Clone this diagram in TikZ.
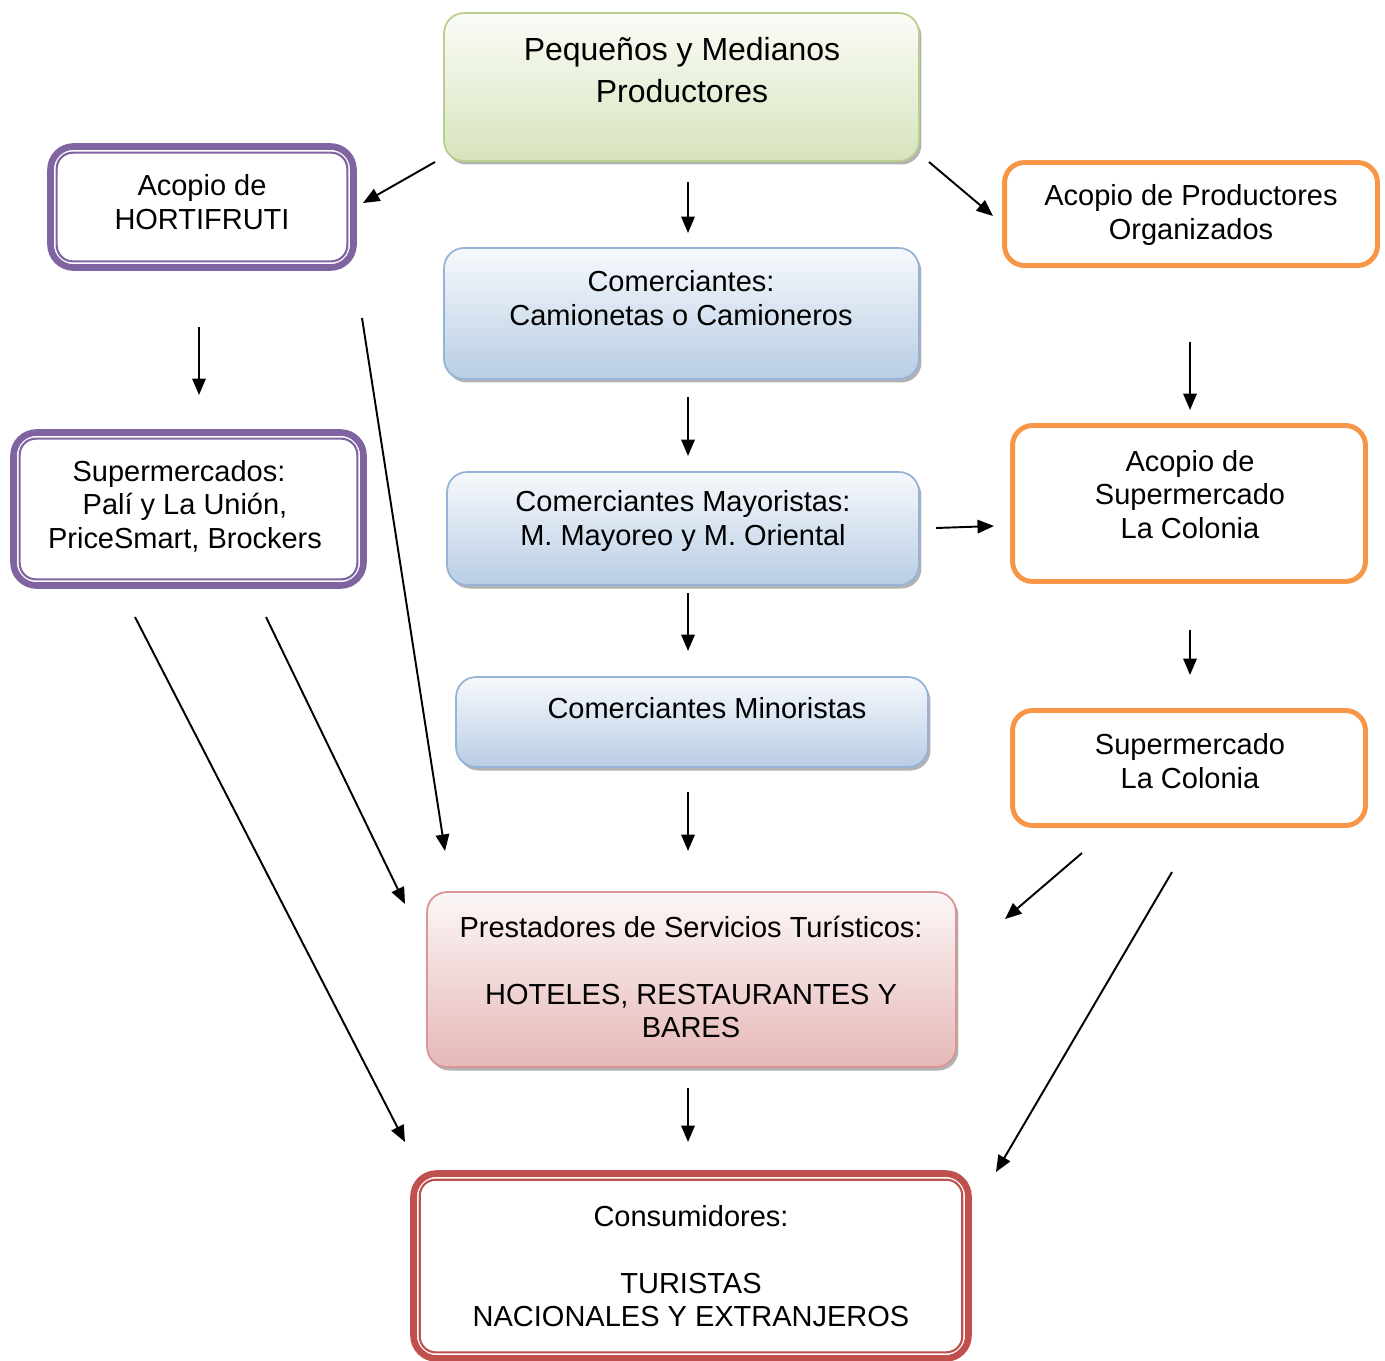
\documentclass[tikz,border=0pt]{standalone}
\usepackage{fontspec}
\setmainfont{Liberation Sans}
\usetikzlibrary{arrows.meta,shadows,calc}
\definecolor{Leaf}{HTML}{D7E4BD}
\definecolor{LeafLine}{HTML}{B9CF8F}
\definecolor{Sky}{HTML}{B9CDE5}
\definecolor{SkyLine}{HTML}{95B3D7}
\definecolor{Rose}{HTML}{E6B9B8}
\definecolor{RoseLine}{HTML}{D99594}
\definecolor{Plum}{HTML}{8064A2}
\definecolor{Tang}{HTML}{F79646}
\definecolor{Brick}{HTML}{C0504D}

\begin{document}
\begin{tikzpicture}[x=0.02cm,y=-0.02cm,
        box/.style={rounded corners=.4cm,inner sep=0pt},
        sh/.style={drop shadow={shadow xshift=.05cm,shadow yshift=-.07cm,fill=black!60,opacity=.5}},
        gr/.style 2 args={box,sh,draw=#1,line width=1pt,top color=#2!12!white,bottom color=#2},
        dbl/.style={box,draw=#1,line width=3.8pt,rounded corners=.46cm,fill=white},
        rim/.style={draw=#1,line width=1.2pt,rounded corners=.32cm},
        og/.style={box,draw=Tang,line width=2.8pt,fill=white},
        t/.style={align=center,font=\fontsize{16.5}{19}\selectfont},
        a/.style={-{Triangle[length=.33cm,width=.27cm]},line width=1.1pt}]
        \useasboundingbox (0,0) rectangle (1385,1360);
        % cadena central
        \node[gr={LeafLine}{Leaf},minimum width=9.5cm,minimum height=2.96cm] (p) at (681.5,87) {};
        \node[gr={SkyLine}{Sky},minimum width=9.5cm,minimum height=2.62cm] (c) at (681.5,313.5) {};
        \node[gr={SkyLine}{Sky},minimum width=9.44cm,minimum height=2.26cm] (m) at (683,528.5) {};
        \node[gr={SkyLine}{Sky},minimum width=9.44cm,minimum height=1.8cm] (n) at (692,722) {};
        \node[gr={RoseLine}{Rose},minimum width=10.58cm,minimum height=3.5cm] (r) at (691.5,979.5) {};
        \node[dbl=Brick,minimum width=11.1cm,minimum height=3.7cm] (k) at (691,1266) {};
        % supermercados
        \node[dbl=Plum,minimum width=6.06cm,minimum height=2.42cm] (h) at (202,207) {};
        \node[dbl=Plum,minimum width=7cm,minimum height=3.06cm] (s) at (188.5,509) {};
        \node[og,minimum width=7.46cm,minimum height=2.06cm] (o) at (1191,214) {};
        \node[og,minimum width=7.06cm,minimum height=3.12cm] (q) at (1189,503.5) {};
        \node[og,minimum width=7.06cm,minimum height=2.3cm] (l) at (1189,768) {};
        % borde interior
        \draw[rim=Plum] ($(h.north west)+(.19cm,-.19cm)$) rectangle ($(h.south east)+(-.19cm,.19cm)$);
        \draw[rim=Plum] ($(s.north west)+(.19cm,-.19cm)$) rectangle ($(s.south east)+(-.19cm,.19cm)$);
        \draw[rim=Brick] ($(k.north west)+(.19cm,-.19cm)$) rectangle ($(k.south east)+(-.19cm,.19cm)$);
        % textos
        \node[t,font=\fontsize{18.2}{23.9}\selectfont] (p-t) at (682,70) {Pequeños y Medianos\\Productores};
        \node[t] (c-t) at (681,298) {Comerciantes:\\Camionetas o Camioneros};
        \node[t] (m-t) at (683,521) {Comerciantes Mayoristas:\\M. Mayoreo y M. Oriental};
        \node[t] (n-t) at (707,708) {Comerciantes Minoristas};
        \node[t] (r-t) at (691,977) {Prestadores de Servicios Turísticos:\\[.67cm]HOTELES, RESTAURANTES Y\\BARES};
        \node[t] (k-t) at (691,1266) {Consumidores:\\[.67cm]TURISTAS\\NACIONALES Y EXTRANJEROS};
        \node[t] (h-t) at (202,202) {Acopio de\\HORTIFRUTI};
        \node[t] (s-t) at (185,506) {Supermercados:\hspace*{.24cm}\\Palí y La Unión,\hspace*{.84cm}\\PriceSmart, Brockers};
        \node[t] (o-t) at (1191,215) {Acopio de Productores\\Organizados};
        \node[t] (q-t) at (1190,494.5) {Acopio de\\Supermercado\\La Colonia};
        \node[t] (l-t) at (1190,761) {Supermercado\\La Colonia};
        % flechas
        \foreach \f/\xa/\ya/\xb/\yb in {ph/435/162/363/203, pc/688/182/688/233, po/929/162/993/216,
            hs/199/327/199/395, hr/362/318/445/851, cm/688/397/688/456, oq/1190/342/1190/410,
            mq/936/528/994/526, mn/688/593/688/651, ql/1190/630/1190/675, sk/135/617/405/1142,
            sr/266/617/405/904, nr/688/792/688/851, lr/1082/853/1005/919, lk/1172/872/996/1172,
            rk/688/1088/688/1142}{
          \coordinate (\f-a) at (\xa,\ya);
          \coordinate (\f-b) at (\xb,\yb);
          \draw[a] (\f-a) -- (\f-b);
        }
\end{tikzpicture}
\end{document}
